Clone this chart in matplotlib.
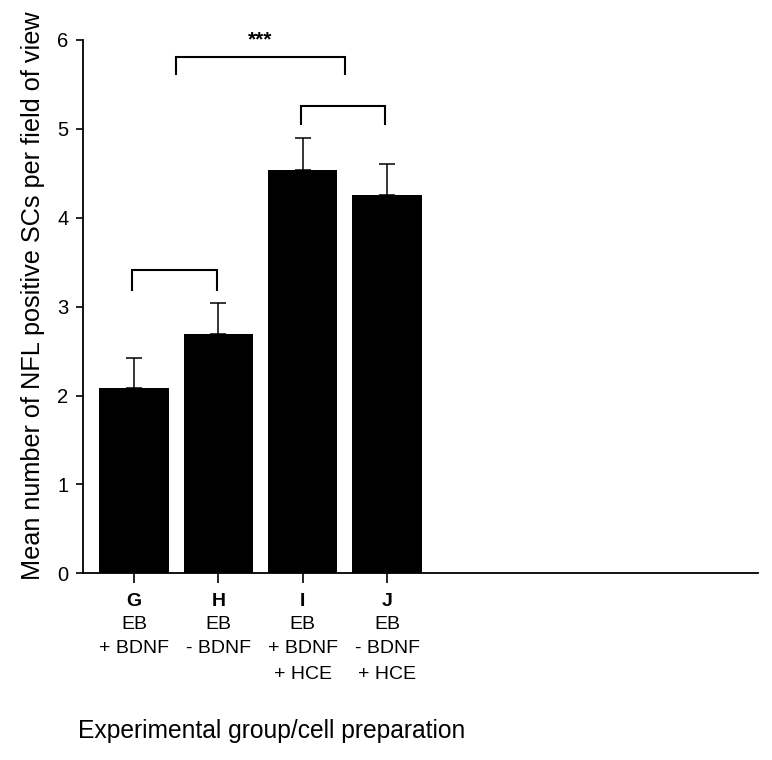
import numpy as np
import matplotlib
matplotlib.use("Agg")
import matplotlib.pyplot as plt

plt.rcParams["font.family"] = ["Liberation Sans", "DejaVu Sans"]

# data
groups = ["G", "H", "I", "J"]
sublabels = [
    ["EB", "+ BDNF"],
    ["EB", "- BDNF"],
    ["EB", "+ BDNF", "+ HCE"],
    ["EB", "- BDNF", "+ HCE"],
]
means = [2.08, 2.69, 4.54, 4.26]
errors = [0.34, 0.35, 0.36, 0.35]

# significance brackets: (left x, right x, bar height, leg bottom, label)
brackets = [
    (0.5, 2.5, 5.81, 5.62, "***"),
    (1.98, 2.98, 5.26, 5.06, ""),
    (-0.02, 0.98, 3.41, 3.19, ""),
]

fig = plt.figure(figsize=(7.72, 7.6), dpi=100)
ax = fig.add_axes([0.108, 0.2457, 0.874, 0.7017])

x = np.arange(len(groups))
ax.bar(x, means, width=0.82, color="black", zorder=2)
ax.errorbar(x, means, yerr=[np.zeros(len(errors)), errors], fmt="none",
            ecolor="black", elinewidth=1.1, capsize=5.8, capthick=1.1, zorder=1)

for x1, x2, y, y0, lab in brackets:
    ax.plot([x1, x1, x2, x2], [y0, y, y, y0], color="black", lw=1.5,
            clip_on=False, solid_joinstyle="miter")
    if lab:
        ax.text((x1 + x2) / 2, 6.0, lab, ha="center", va="center",
                fontsize=15, fontweight="bold")

ax.set_xlim(-0.6, 7.4)
ax.set_ylim(0, 6)
ax.set_yticks(range(0, 7))
ax.tick_params(axis="y", labelsize=14.5, length=4.7, width=1.2, pad=6)
ax.set_xticks(x)
ax.set_xticklabels([])
ax.tick_params(axis="x", length=7.2, width=1.2)
for s in ["top", "right"]:
    ax.spines[s].set_visible(False)
for s in ["left", "bottom"]:
    ax.spines[s].set_linewidth(1.3)

# category labels under each tick
offsets = [37.2, 54.3, 73.2]
for i, g in enumerate(groups):
    ax.annotate(g, xy=(i, 0), xycoords=("data", "axes fraction"),
                xytext=(0, -20.4), textcoords="offset points",
                ha="center", va="center", fontsize=14, fontweight="bold")
    for j, line in enumerate(sublabels[i]):
        ax.annotate(line, xy=(i, 0), xycoords=("data", "axes fraction"),
                    xytext=(0, -offsets[j]), textcoords="offset points",
                    ha="center", va="center", fontsize=14)

fig.text(33.5 / 772, 1 - 296 / 760,
         "Mean number of NFL positive SCs per field of view",
         rotation=90, ha="center", va="center", fontsize=18.2)
fig.text(78 / 772, (760 - 737.7) / 760, "Experimental group/cell preparation",
         ha="left", va="baseline", fontsize=17.7)

fig.savefig("out.png", dpi=100)
